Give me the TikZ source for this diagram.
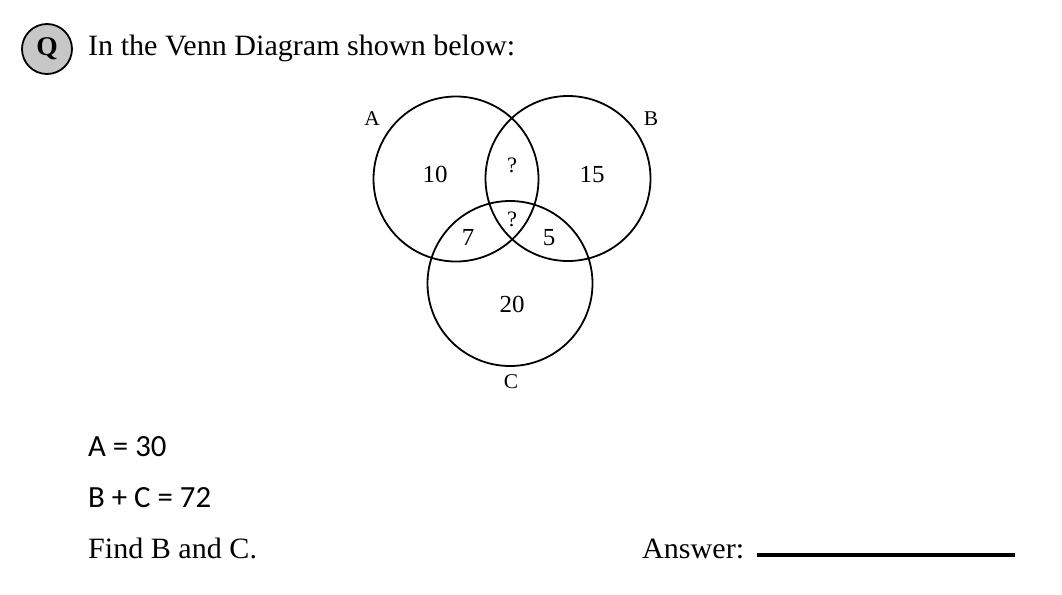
\documentclass[tikz,border=0pt]{standalone}
\usepackage{fontspec}
\setmainfont{Liberation Serif}[FakeStretch=1.02]
\newfontfamily\calib{Carlito}
\begin{document}
\begin{tikzpicture}[x=1pt,y=-1pt,
  vcirc/.style={circle,draw,line width=1.8pt,minimum size=165pt,inner sep=0pt},
  vnum/.style={anchor=base,inner sep=0pt,font=\fontsize{24.5}{24.5}\selectfont},
  qmark/.style={anchor=base,inner sep=0pt,font=\fontsize{22}{22}\selectfont},
  vlab/.style={anchor=base,inner sep=0pt,font=\fontsize{21}{21}\selectfont},
  txt/.style={anchor=base west,inner sep=0pt,font=\fontsize{29.5}{29.5}\selectfont},
  ctxt/.style={anchor=base west,inner sep=0pt,font=\calib\fontsize{30.8}{30.8}\selectfont},
  badge/.style={circle,draw,line width=1.8pt,fill=black!22,minimum size=50pt,inner sep=0pt,font=\bfseries\fontsize{27}{27}\selectfont}
]
\useasboundingbox (0,0) rectangle (1062,594);
\fill[white] (0,0) rectangle (1062,594);
% header
\node[badge] (q) at (47,49) {Q};
\node[txt] (head) at (88,56) {In the Venn Diagram shown below:};
% venn circles
\node[vcirc] (cA) at (456,179) {};
\node[vcirc] (cB) at (568,178.5) {};
\node[vcirc] (cC) at (510,283.5) {};
% set labels
\node[vlab] (lA) at (372,125) {A};
\node[vlab] (lB) at (651,125) {B};
\node[vlab] (lC) at (511,388) {C};
% region values
\node[vnum] (n10) at (435,182) {10};
\node[qmark] (nab) at (512,172) {?};
\node[vnum] (n15) at (592,182) {15};
\node[qmark] (nabc) at (512,226) {?};
\node[vnum] (n7) at (468,245) {7};
\node[vnum] (n5) at (549,245) {5};
\node[vnum] (n20) at (512,312) {20};
% givens
\node[ctxt] (g1) at (88,456) {A = 30};
\node[ctxt] (g2) at (88,507) {B + C = 72};
\node[txt] (g3) at (88,558) {Find B and C.};
\node[txt] (ans) at (642,558) {Answer:};
\coordinate (ls) at (757,555);
\coordinate (le) at (1015,555);
\draw[line width=3.5pt] (ls) -- (le);
\end{tikzpicture}
\end{document}
